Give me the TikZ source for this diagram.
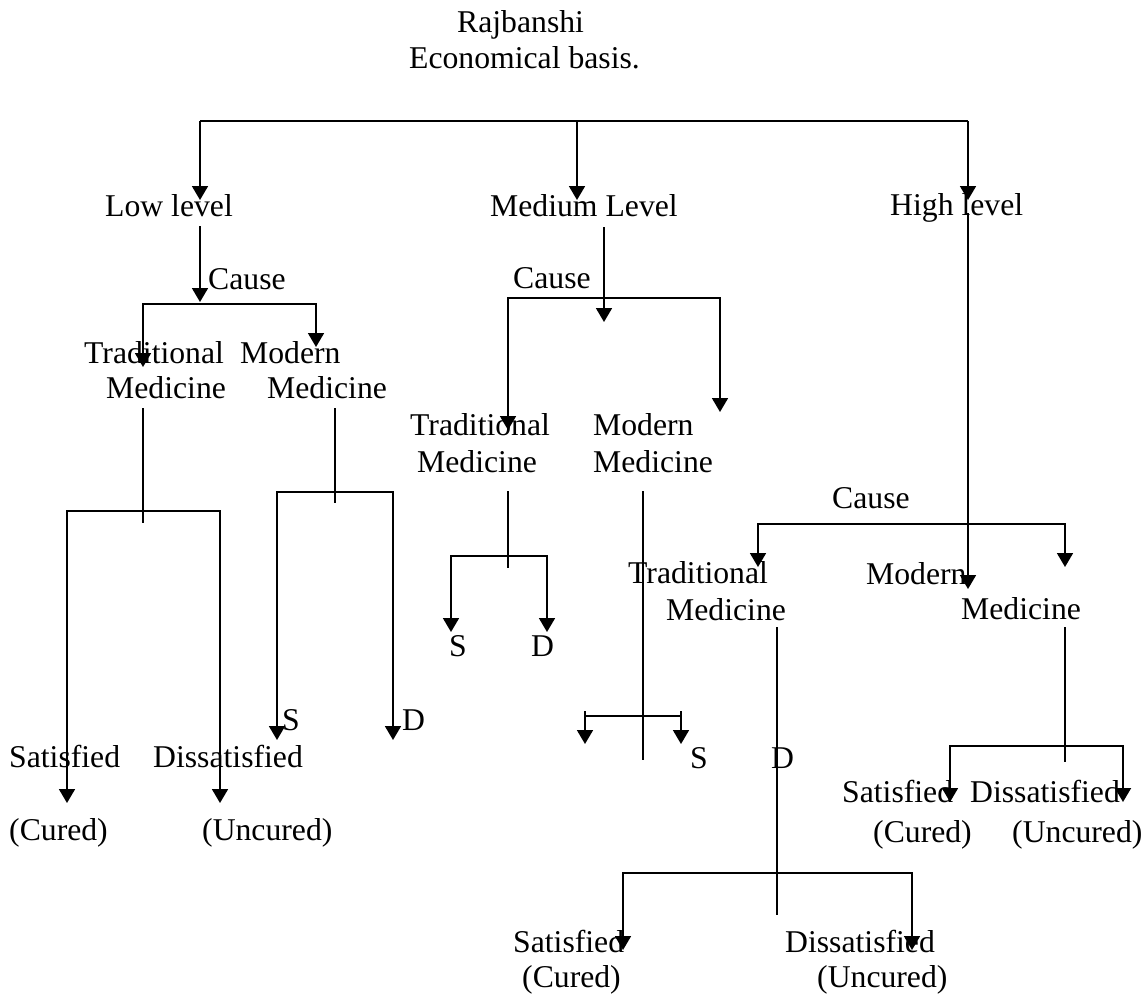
\documentclass[tikz,border=0pt]{standalone}
\usepackage{fontspec}
\setmainfont{Liberation Serif}
\usetikzlibrary{arrows.meta}
\begin{document}
\begin{tikzpicture}[x=1pt,y=-1pt,
  lbl/.style={anchor=base west,inner sep=0pt,font=\fontsize{31.7}{38}\selectfont},
  wire/.style={line width=1.8pt},
  arr/.style={wire,-{Triangle[length=14pt,width=16pt]}}]
\useasboundingbox (0,0) rectangle (1148,994);

% ---- title ----
\node[lbl] (t1) at (457,32) {Rajbanshi};
\node[lbl] (t2) at (409,68) {Economical basis.};

% ---- economic levels ----
\node[lbl] (low) at (105,216) {Low level};
\node[lbl] (med) at (490,216) {Medium Level};
\node[lbl] (high) at (890,215) {High level};

% ---- low level branch ----
\node[lbl] (lcause) at (208,289) {Cause};
\node[lbl] (ltrad1) at (84,363) {Traditional};
\node[lbl] (ltrad2) at (106,398) {Medicine};
\node[lbl] (lmod1) at (240,363) {Modern};
\node[lbl] (lmod2) at (267,398) {Medicine};
\node[lbl] (lsat) at (9,767) {Satisfied};
\node[lbl] (ldis) at (153,767) {Dissatisfied};
\node[lbl] (lcur) at (9,840) {(Cured)};
\node[lbl] (lunc) at (202,840) {(Uncured)};
\node[lbl] (lms) at (282,730) {S};
\node[lbl] (lmd) at (402,730) {D};

% ---- medium level branch ----
\node[lbl] (mcause) at (513,288) {Cause};
\node[lbl] (mtrad1) at (410,435) {Traditional};
\node[lbl] (mtrad2) at (417,472) {Medicine};
\node[lbl] (mmod1) at (593,435) {Modern};
\node[lbl] (mmod2) at (593,472) {Medicine};
\node[lbl] (mts) at (449,656) {S};
\node[lbl] (mtd) at (531,656) {D};
\node[lbl] (mms) at (690,768) {S};
\node[lbl] (mmd) at (771,768) {D};

% ---- high level branch ----
\node[lbl] (hcause) at (832,508) {Cause};
\node[lbl] (htrad1) at (628,583) {Traditional};
\node[lbl] (htrad2) at (666,620) {Medicine};
\node[lbl] (hmod1) at (866,584) {Modern};
\node[lbl] (hmod2) at (961,619) {Medicine};
\node[lbl] (hmsat) at (842,802) {Satisfied};
\node[lbl] (hmdis) at (970,802) {Dissatisfied};
\node[lbl] (hmcur) at (873,842) {(Cured)};
\node[lbl] (hmunc) at (1012,842) {(Uncured)};
\node[lbl] (htsat) at (513,952) {Satisfied};
\node[lbl] (htcur) at (522,987) {(Cured)};
\node[lbl] (htdis) at (785,952) {Dissatisfied};
\node[lbl] (htunc) at (817,987) {(Uncured)};

% ---- junction points ----
\coordinate (rootL) at (200,121);
\coordinate (rootM) at (577,121);
\coordinate (rootR) at (968,121);
\coordinate (lowIn) at (200,200);
\coordinate (medIn) at (577,200);
\coordinate (highIn) at (968,200);

\coordinate (lowOut) at (200,226);
\coordinate (lowTip) at (200,302);
\coordinate (lbarL) at (143,304);
\coordinate (lbarR) at (316,304);
\coordinate (ltradIn) at (143,367);
\coordinate (lmodIn) at (316,347);

\coordinate (ltOut) at (143,408);
\coordinate (ltEnd) at (143,523);
\coordinate (ltbarL) at (67,511);
\coordinate (ltbarR) at (220,511);
\coordinate (ltS) at (67,803);
\coordinate (ltD) at (220,803);

\coordinate (lmOut) at (335,408);
\coordinate (lmEnd) at (335,503);
\coordinate (lmbarL) at (277,492);
\coordinate (lmbarR) at (393,492);
\coordinate (lmS) at (277,740);
\coordinate (lmD) at (393,740);

\coordinate (medOut) at (604,227);
\coordinate (medTip) at (604,322);
\coordinate (mbarL) at (508,298);
\coordinate (mbarR) at (720,298);
\coordinate (mtradIn) at (508,430);
\coordinate (mmodIn) at (720,412);

\coordinate (mtOut) at (508,491);
\coordinate (mtEnd) at (508,568);
\coordinate (mtbarL) at (451,556);
\coordinate (mtbarR) at (547,556);
\coordinate (mtS) at (451,632);
\coordinate (mtD) at (547,632);

\coordinate (mmOut) at (643,491);
\coordinate (mmEnd) at (643,760);
\coordinate (mmbarL) at (585,716);
\coordinate (mmbarR) at (681,716);
\coordinate (mmtickL) at (585,711);
\coordinate (mmtickR) at (681,711);
\coordinate (mmL) at (585,744);
\coordinate (mmR) at (681,744);

\coordinate (highOut) at (968,213);
\coordinate (highTip) at (968,589);
\coordinate (hbarL) at (758,524);
\coordinate (hbarR) at (1065,524);
\coordinate (htradIn) at (758,567);
\coordinate (hmodIn) at (1065,567);

\coordinate (htOut) at (777,627);
\coordinate (htEnd) at (777,915);
\coordinate (htbarL) at (623,873);
\coordinate (htbarR) at (912,873);
\coordinate (htS) at (623,950);
\coordinate (htD) at (912,950);

\coordinate (hmOut) at (1065,627);
\coordinate (hmEnd) at (1065,762);
\coordinate (hmbarL) at (950,746);
\coordinate (hmbarR) at (1123,746);
\coordinate (hmS) at (950,802);
\coordinate (hmD) at (1123,802);

% ---- connectors ----
\draw[arr] (rootL) -- (lowIn);
\draw[wire] (rootL) -- (rootR);
\draw[arr] (rootM) -- (medIn);
\draw[arr] (rootR) -- (highIn);

% low level
\draw[arr] (lowOut) -- (lowTip);
\draw[arr] (lbarR) -- (lbarL) -- (ltradIn);
\draw[arr] (lbarL) -- (lbarR) -- (lmodIn);
\draw[wire] (ltOut) -- (ltEnd);
\draw[arr] (ltbarR) -- (ltbarL) -- (ltS);
\draw[arr] (ltbarL) -- (ltbarR) -- (ltD);
\draw[wire] (lmOut) -- (lmEnd);
\draw[arr] (lmbarR) -- (lmbarL) -- (lmS);
\draw[arr] (lmbarL) -- (lmbarR) -- (lmD);

% medium level
\draw[arr] (medOut) -- (medTip);
\draw[arr] (mbarR) -- (mbarL) -- (mtradIn);
\draw[arr] (mbarL) -- (mbarR) -- (mmodIn);
\draw[wire] (mtOut) -- (mtEnd);
\draw[arr] (mtbarR) -- (mtbarL) -- (mtS);
\draw[arr] (mtbarL) -- (mtbarR) -- (mtD);
\draw[wire] (mmOut) -- (mmEnd);
\draw[wire] (mmbarL) -- (mmbarR);
\draw[arr] (mmtickL) -- (mmL);
\draw[arr] (mmtickR) -- (mmR);

% high level
\draw[arr] (highOut) -- (highTip);
\draw[arr] (hbarR) -- (hbarL) -- (htradIn);
\draw[arr] (hbarL) -- (hbarR) -- (hmodIn);
\draw[wire] (htOut) -- (htEnd);
\draw[arr] (htbarR) -- (htbarL) -- (htS);
\draw[arr] (htbarL) -- (htbarR) -- (htD);
\draw[wire] (hmOut) -- (hmEnd);
\draw[arr] (hmbarR) -- (hmbarL) -- (hmS);
\draw[arr] (hmbarL) -- (hmbarR) -- (hmD);
\end{tikzpicture}
\end{document}
